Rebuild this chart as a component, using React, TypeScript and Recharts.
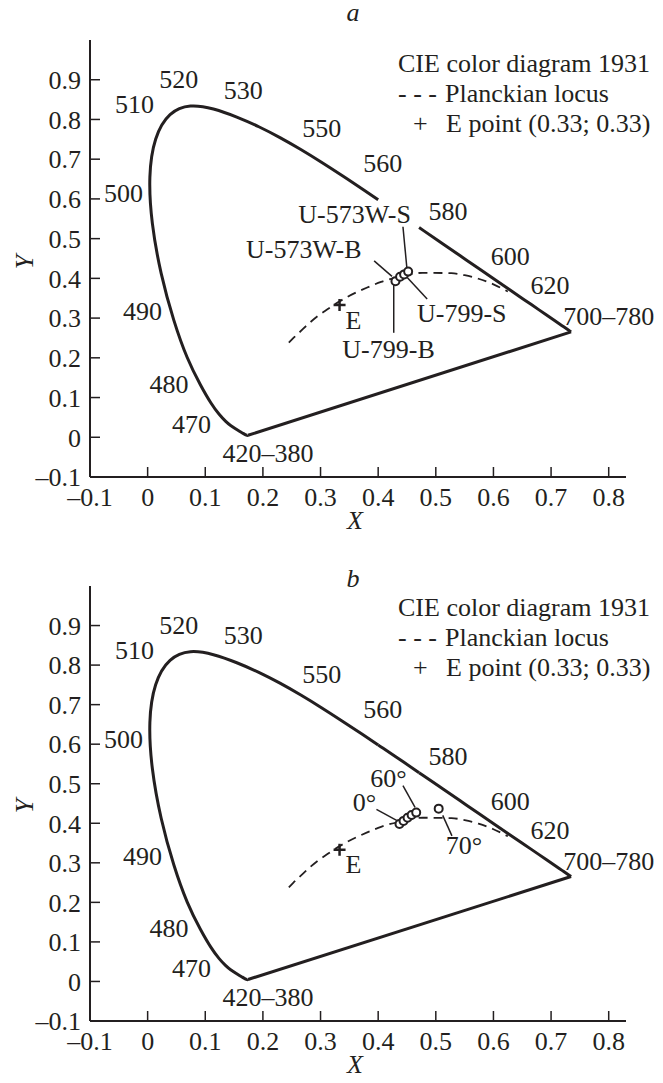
import React from 'react';
import { ScatterChart, Scatter, XAxis, YAxis, ReferenceLine } from 'recharts';

type Pt = [number, number];

const xTicks = [-0.1, 0, 0.1, 0.2, 0.3, 0.4, 0.5, 0.6, 0.7, 0.8];
const yTicks = [-0.1, 0, 0.1, 0.2, 0.3, 0.4, 0.5, 0.6, 0.7, 0.8, 0.9];

// spectral locus, 380 nm up to where panel a breaks it (near 565 nm)
const locusBlue: Pt[] = [
  [0.1741, 0.005], [0.1714, 0.0051], [0.1644, 0.0109], [0.1566, 0.0177], [0.144, 0.0297],
  [0.1355, 0.0399], [0.1241, 0.0578], [0.1096, 0.0868], [0.0913, 0.1327], [0.0687, 0.2007],
  [0.0454, 0.295], [0.0235, 0.4127], [0.0082, 0.5384], [0.0039, 0.6548], [0.0139, 0.7502],
  [0.0389, 0.812], [0.0743, 0.8338], [0.1142, 0.8262], [0.1547, 0.8059], [0.1929, 0.7816],
  [0.2296, 0.7543], [0.2658, 0.7243], [0.3016, 0.6923], [0.3373, 0.6589], [0.3731, 0.6245],
  [0.4, 0.598],
];
// the piece hidden behind the U-573W-S label in panel a
const locusGap: Pt[] = [[0.4, 0.598], [0.4087, 0.5896], [0.4441, 0.5547], [0.471, 0.528]];
const locusRed: Pt[] = [
  [0.471, 0.528], [0.4788, 0.5202], [0.5125, 0.4866], [0.5448, 0.4544], [0.5752, 0.4242],
  [0.6029, 0.3965], [0.627, 0.3725], [0.6482, 0.3514], [0.6658, 0.334], [0.6915, 0.3083],
  [0.7079, 0.292], [0.719, 0.2809], [0.73, 0.27], [0.7347, 0.2653],
];
const purpleLine: Pt[] = [[0.7347, 0.2653], [0.1741, 0.005]];

const planckian: Pt[] = [
  [0.245, 0.238], [0.253, 0.25], [0.264, 0.265], [0.281, 0.288], [0.295, 0.305], [0.314, 0.324],
  [0.322, 0.332], [0.345, 0.352], [0.381, 0.377], [0.405, 0.391], [0.437, 0.404], [0.477, 0.414],
  [0.527, 0.413], [0.55, 0.408], [0.574, 0.399], [0.6, 0.385], [0.625, 0.367],
];

const ePoint: Pt[] = [[0.333, 0.333]];
const eLabelAt: Pt[] = [[0.357, 0.295]];

const wavelengthNames = ['520', '530', '510', '550', '560', '500', '580', '600', '620', '700–780', '490', '480', '470', '420–380'];
const wavelengthAt: Pt[] = [
  [0.054, 0.9], [0.166, 0.874], [-0.023, 0.838], [0.302, 0.776], [0.408, 0.688], [-0.042, 0.613],
  [0.521, 0.568], [0.629, 0.454], [0.698, 0.382], [0.8, 0.304], [-0.009, 0.316], [0.037, 0.133],
  [0.076, 0.033], [0.209, -0.041],
];

// panel a: lamps
const samplesA: Pt[] = [[0.43, 0.393], [0.438, 0.404], [0.445, 0.41], [0.452, 0.417]];
const sampleNamesA = ['U-573W-S', 'U-573W-B', 'U-799-S', 'U-799-B'];
const sampleNameAtA: Pt[] = [[0.359, 0.56], [0.271, 0.472], [0.545, 0.312], [0.418, 0.22]];
const leadersA: [Pt, Pt][] = [
  [[0.443, 0.53], [0.45, 0.423]],
  [[0.393, 0.444], [0.424, 0.405]],
  [[0.45, 0.403], [0.485, 0.348]],
  [[0.427, 0.384], [0.427, 0.263]],
];

// panel b: viewing angles
const samplesB: Pt[] = [[0.437, 0.398], [0.444, 0.406], [0.451, 0.414], [0.458, 0.421], [0.466, 0.427], [0.505, 0.437]];
const angleNames = ['0°', '60°', '70°'];
const angleNameAt: Pt[] = [[0.376, 0.452], [0.418, 0.513], [0.549, 0.344]];
const leadersB: [Pt, Pt][] = [
  [[0.397, 0.435], [0.436, 0.404]],
  [[0.443, 0.495], [0.464, 0.44]],
  [[0.512, 0.42], [0.528, 0.368]],
];

const INK = '#231f20';
const FONT = "'Liberation Serif', 'Times New Roman', serif";

const toXY = (pts: Pt[]) => pts.map(([x, y]) => ({ x, y }));
const toWords = (names: string[], at: Pt[]) => names.map((t, i) => ({ x: at[i][0], y: at[i][1], t }));

const noDot = () => <g />;
const ring = (p: any) => <circle cx={p.cx} cy={p.cy} r={4} fill="#fff" stroke={INK} strokeWidth={2} />;
const cross = (p: any) => (
  <g stroke={INK} strokeWidth={2.5}>
    <line x1={p.cx - 6} x2={p.cx + 6} y1={p.cy} y2={p.cy} />
    <line x1={p.cx} x2={p.cx} y1={p.cy - 6} y2={p.cy + 6} />
  </g>
);
const word = (p: any) => (
  <text x={p.cx} y={p.cy} textAnchor="middle" dominantBaseline="central" fontSize={26} fill={INK}>
    {p.payload.t}
  </text>
);

const fmt = (v: number) => (v === 0 ? '0' : v < 0 ? '–' + Math.abs(v).toFixed(1) : v.toFixed(1));

const Panel = ({ top, height, margin, title, titleTop, panel }: any) => {
  const locusLine = { stroke: INK, strokeWidth: 3 };
  const leaders: [Pt, Pt][] = panel === 'a' ? leadersA : leadersB;
  return (
    <div style={{ position: 'absolute', left: 0, top, width: 663, height }}>
      <div style={{ position: 'absolute', left: 343, top: titleTop, width: 20, textAlign: 'center', fontStyle: 'italic', fontSize: 26, lineHeight: '26px' }}>
        {title}
      </div>
      <div style={{ position: 'absolute', left: 398, top: 51, fontSize: 26, lineHeight: '26px', whiteSpace: 'nowrap', color: INK }}>
        CIE color diagram 1931
      </div>
      <div style={{ position: 'absolute', left: 398, top: 81, fontSize: 26, lineHeight: '26px', whiteSpace: 'pre', color: INK }}>
        - - -
      </div>
      <div style={{ position: 'absolute', left: 445, top: 81, fontSize: 26, lineHeight: '26px', whiteSpace: 'nowrap', color: INK }}>
        Planckian locus
      </div>
      <div style={{ position: 'absolute', left: 413, top: 111, fontSize: 26, lineHeight: '26px', color: INK }}>+</div>
      <div style={{ position: 'absolute', left: 446, top: 111, fontSize: 26, lineHeight: '26px', whiteSpace: 'nowrap', color: INK }}>
        E point (0.33; 0.33)
      </div>
      <ScatterChart width={663} height={height} margin={margin}>
        <XAxis
          type="number"
          dataKey="x"
          domain={[-0.1, 0.83]}
          ticks={xTicks}
          interval={0}
          tickFormatter={fmt}
          height={30}
          tickSize={-10}
          tickMargin={21}
          axisLine={{ stroke: INK, strokeWidth: 2 }}
          tickLine={{ stroke: INK, strokeWidth: 1.5 }}
          tick={{ fill: INK, fontSize: 26 }}
          label={{ value: 'X', position: 'bottom', offset: 4, dx: -3, fill: INK, fontSize: 26, fontStyle: 'italic' }}
        />
        <YAxis
          type="number"
          dataKey="y"
          domain={[-0.1, 1.0]}
          ticks={yTicks}
          interval={0}
          tickFormatter={fmt}
          width={60}
          tickSize={-10}
          tickMargin={19}
          axisLine={{ stroke: INK, strokeWidth: 2 }}
          tickLine={{ stroke: INK, strokeWidth: 1.5 }}
          tick={{ fill: INK, fontSize: 26 }}
          label={{
            value: 'Y',
            content: () => (
              <text x={24} y={262} transform="rotate(-90 24 262)" textAnchor="middle" dominantBaseline="central" fontSize={26} fontStyle="italic" fill={INK}>
                Y
              </text>
            ),
          }}
        />
        <Scatter data={toXY(locusBlue)} line={locusLine} lineJointType="natural" shape={noDot} isAnimationActive={false} />
        {panel === 'b' && (
          <Scatter data={toXY(locusGap)} line={locusLine} lineJointType="natural" shape={noDot} isAnimationActive={false} />
        )}
        <Scatter data={toXY(locusRed)} line={locusLine} lineJointType="natural" shape={noDot} isAnimationActive={false} />
        <Scatter data={toXY(purpleLine)} line={locusLine} lineJointType="linear" shape={noDot} isAnimationActive={false} />
        <Scatter
          data={toXY(planckian)}
          line={{ stroke: INK, strokeWidth: 1.8, strokeDasharray: '9 6' }}
          lineJointType="monotoneX"
          shape={noDot}
          isAnimationActive={false}
        />
        {leaders.map((seg, i) => (
          <ReferenceLine
            key={i}
            segment={[{ x: seg[0][0], y: seg[0][1] }, { x: seg[1][0], y: seg[1][1] }]}
            stroke={INK}
            strokeWidth={1.5}
            ifOverflow="visible"
          />
        ))}
        <Scatter data={toXY(ePoint)} shape={cross} isAnimationActive={false} />
        <Scatter data={toWords(['E'], eLabelAt)} shape={word} isAnimationActive={false} />
        <Scatter data={toWords(wavelengthNames, wavelengthAt)} shape={word} isAnimationActive={false} />
        {panel === 'a' ? (
          <Scatter data={toWords(sampleNamesA, sampleNameAtA)} shape={word} isAnimationActive={false} />
        ) : (
          <Scatter data={toWords(angleNames, angleNameAt)} shape={word} isAnimationActive={false} />
        )}
        <Scatter data={toXY(panel === 'a' ? samplesA : samplesB)} shape={ring} isAnimationActive={false} />
      </ScatterChart>
    </div>
  );
};

export default function App() {
  return (
    <div style={{ position: 'absolute', left: 0, top: 0, width: 663, height: 1083, background: '#fff', fontFamily: FONT, color: INK }}>
      <Panel top={0} height={540} margin={{ top: 40, right: 37, bottom: 33, left: 30 }} title="a" titleTop={0} panel="a" />
      <Panel top={544} height={539} margin={{ top: 42, right: 37, bottom: 32, left: 30 }} title="b" titleTop={22} panel="b" />
    </div>
  );
}
